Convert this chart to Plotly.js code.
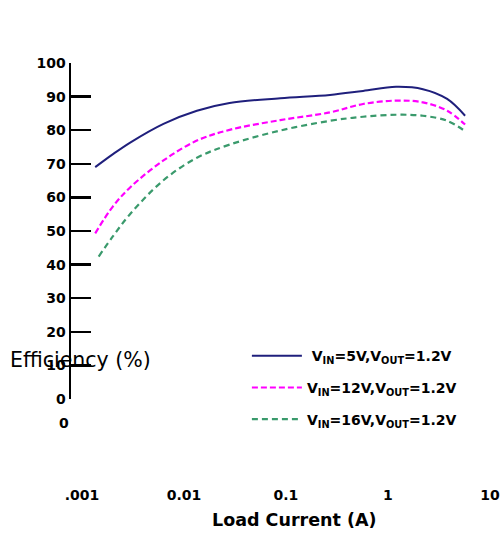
<!DOCTYPE html>
<html>
<head>
<meta charset="utf-8">
<script src="https://cdn.plot.ly/plotly-3.0.1.min.js"></script>
<style>html,body{margin:0;padding:0;background:#fff;}#chart{width:502px;height:537px;}</style>
</head>
<body>
<div id="chart"></div>
<script>
// Load current (A)
var loadCurrent = [0.00135, 0.002, 0.003, 0.0063, 0.0134, 0.028, 0.088, 0.27, 0.57, 1.2, 2.2, 3.8, 5.7];
var loadCurrentGreen = [0.00146, 0.002, 0.003, 0.0063, 0.0134, 0.028, 0.088, 0.27, 0.57, 1.2, 2.2, 3.8, 5.9];
// Efficiency (%)
var eff5V  = [69.0, 72.8, 76.4, 81.9, 85.8, 88.1, 89.5, 90.5, 91.7, 92.9, 92.2, 89.3, 84.3];
var eff12V = [49.3, 57.2, 63.1, 71.0, 76.9, 80.1, 83.0, 85.3, 87.8, 88.8, 88.3, 85.8, 81.7];
var eff16V = [42.4, 48.3, 55.2, 65.1, 71.8, 75.7, 79.9, 82.8, 84.0, 84.6, 84.3, 82.8, 79.4];
var seriesNames = [
  'V<sub>IN</sub>=5V,V<sub>OUT</sub>=1.2V',
  'V<sub>IN</sub>=12V,V<sub>OUT</sub>=1.2V',
  'V<sub>IN</sub>=16V,V<sub>OUT</sub>=1.2V'
];
var xTickVals = [0.001, 0.01, 0.1, 1, 10];
var xTickText = ['.001', '0.01', '0.1', '1', '10'];
var yTickVals = [0, 10, 20, 30, 40, 50, 60, 70, 80, 90, 100];
var xTitle = 'Load Current (A)';
var yTitle = 'Efficiency (%)';

var boldFont = {family: 'DejaVu Sans', size: 14, color: '#000', weight: 'bold'};

var traces = [
  {x: loadCurrent, y: eff5V, name: ' ' + seriesNames[0], type: 'scatter', mode: 'lines',
   line: {color: '#1f1f7c', width: 2, shape: 'spline', smoothing: 1}, legendgroup: 'a'},
  {x: loadCurrent, y: eff12V, name: seriesNames[1], type: 'scatter', mode: 'lines',
   line: {color: '#ff00ff', width: 2.2, dash: '6px,3px', shape: 'spline', smoothing: 1}, legendgroup: 'b'},
  {x: loadCurrentGreen, y: eff16V, name: seriesNames[2], type: 'scatter', mode: 'lines',
   line: {color: '#3a9a6c', width: 2.2, dash: '6px,4px', shape: 'spline', smoothing: 1}, legendgroup: 'c'}
];

var layout = {
  width: 502, height: 537,
  margin: {l: 71, r: 2, t: 63, b: 138},
  paper_bgcolor: '#fff', plot_bgcolor: '#fff',
  showlegend: true,
  legend: {
    x: 0.41, y: 0.175, xanchor: 'left', yanchor: 'top',
    bgcolor: 'rgba(0,0,0,0)', font: boldFont,
    traceorder: 'grouped', tracegroupgap: 10.5, itemwidth: 50
  },
  xaxis: {
    type: 'log', range: [-3.107, 1.098],
    tickvals: xTickVals, ticktext: xTickText,
    showline: false, showgrid: false, zeroline: false, ticks: '',
    tickfont: boldFont, ticklabelstandoff: 86
  },
  yaxis: {
    range: [0, 100], tickvals: yTickVals,
    showline: true, linecolor: '#000', linewidth: 2.5,
    ticks: 'inside', ticklen: 20, tickwidth: 2.5, tickcolor: '#000',
    showgrid: false, zeroline: false,
    tickfont: boldFont
  },
  annotations: [
    {text: yTitle, xref: 'paper', yref: 'paper', x: 0.023, y: 0.116,
     xanchor: 'center', yanchor: 'middle', showarrow: false,
     font: {family: 'DejaVu Sans', size: 20.5, color: '#000'}},
    {text: xTitle, xref: 'paper', yref: 'paper', x: 0.52, y: -0.36,
     xanchor: 'center', yanchor: 'middle', showarrow: false,
     font: {family: 'DejaVu Sans', size: 17.5, color: '#000', weight: 'bold'}},
    {text: '0', xref: 'paper', yref: 'paper', x: -0.0163, y: -0.0714,
     xanchor: 'center', yanchor: 'middle', showarrow: false, font: boldFont}
  ]
};

Plotly.newPlot('chart', traces, layout, {displayModeBar: false, staticPlot: true});
</script>
</body>
</html>
